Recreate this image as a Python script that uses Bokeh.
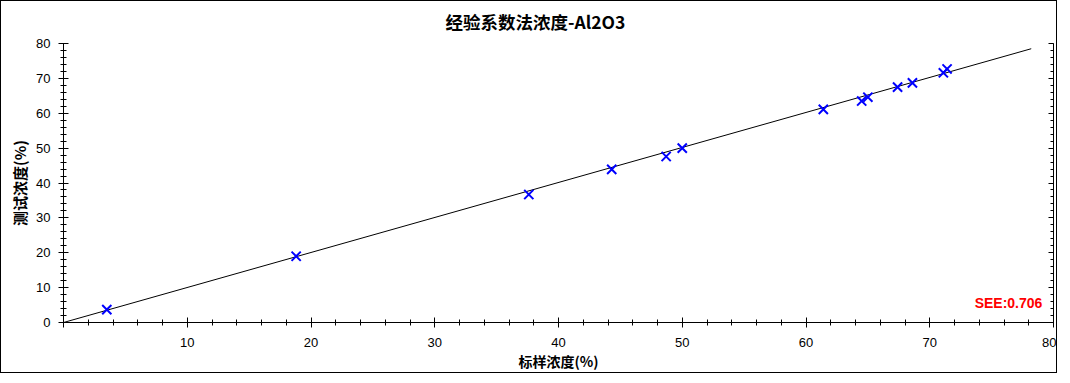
from bokeh.plotting import figure
from bokeh.models import Range1d, LinearAxis, SingleIntervalTicker, Label, Title
from bokeh.embed import file_html
from bokeh.resources import INLINE

# data
std_conc = [3.5, 18.8, 37.6, 44.3, 48.7, 50.0, 61.4, 64.5, 65.0, 67.4, 68.6, 71.1, 71.4]
test_conc = [3.7, 19.0, 36.7, 43.9, 47.6, 50.0, 61.1, 63.5, 64.6, 67.5, 68.7, 71.6, 72.7]
fit_x = [0.0, 78.2]
fit_y = [0.0, 78.5]
see_text = "SEE:0.706"
title_text = "经验系数法浓度-Al2O3"
x_label = "标样浓度(%)"
y_label = "测试浓度(%)"

CJK = "Noto Sans CJK SC"
LAT = "Liberation Sans"

p = figure(width=1057, height=373, output_backend="svg", toolbar_location=None,
           x_range=Range1d(0, 80), y_range=Range1d(0, 80),
           min_border_left=62, min_border_right=5, min_border_top=42, min_border_bottom=52,
           title=None)
p.styles = {"border": "1px solid black"}
p.background_fill_color = "white"
p.border_fill_color = "white"
p.outline_line_color = None
p.xgrid.visible = False
p.ygrid.visible = False

title = Title(text=title_text, align="left", offset=382, vertical_align="top", standoff=15,
              text_font=CJK, text_font_size="17.5px", text_font_style="bold", text_color="black",
              text_line_height=0.3)
p.add_layout(title, "above")

for ax in (p.xaxis[0], p.yaxis[0]):
    ax.ticker = SingleIntervalTicker(interval=10, num_minor_ticks=5)
    ax.axis_line_color = "black"
    ax.major_tick_line_color = "black"
    ax.minor_tick_line_color = "black"
    ax.major_tick_in = 5
    ax.major_tick_out = 5
    ax.minor_tick_in = 3
    ax.minor_tick_out = 3
    ax.major_label_text_font = LAT
    ax.major_label_text_font_size = "13px"
    ax.major_label_text_color = "black"
    ax.axis_label_text_font = CJK
    ax.axis_label_text_font_style = "bold"
    ax.axis_label_text_color = "black"

p.xaxis[0].major_label_overrides = {0: ""}
p.xaxis[0].major_label_standoff = 10
p.xaxis[0].axis_label = x_label
p.xaxis[0].axis_label_text_font_size = "14px"
p.xaxis[0].axis_label_standoff = 1
p.yaxis[0].major_label_standoff = 8
p.yaxis[0].axis_label = y_label
p.yaxis[0].axis_label_text_font_size = "15px"
p.yaxis[0].axis_label_standoff = 3

right = LinearAxis(ticker=SingleIntervalTicker(interval=10, num_minor_ticks=5))
right.major_tick_in = 5
right.major_tick_out = 0
right.minor_tick_in = 3
right.minor_tick_out = 0
right.major_label_text_font_size = "0px"
right.major_label_standoff = 0
right.axis_line_color = "black"
p.add_layout(right, "right")

p.line(fit_x, fit_y, line_color="black", line_width=1)
p.scatter(std_conc, test_conc, marker="x", size=13, line_color="#0000ff", line_width=2)

p.add_layout(Label(x=79.1, y=5.45, text=see_text, text_align="right", text_baseline="middle",
                   text_color="#ff0000", text_font=LAT, text_font_style="bold",
                   text_font_size="14px"))

open("out.html", "w").write(file_html(p, INLINE))
